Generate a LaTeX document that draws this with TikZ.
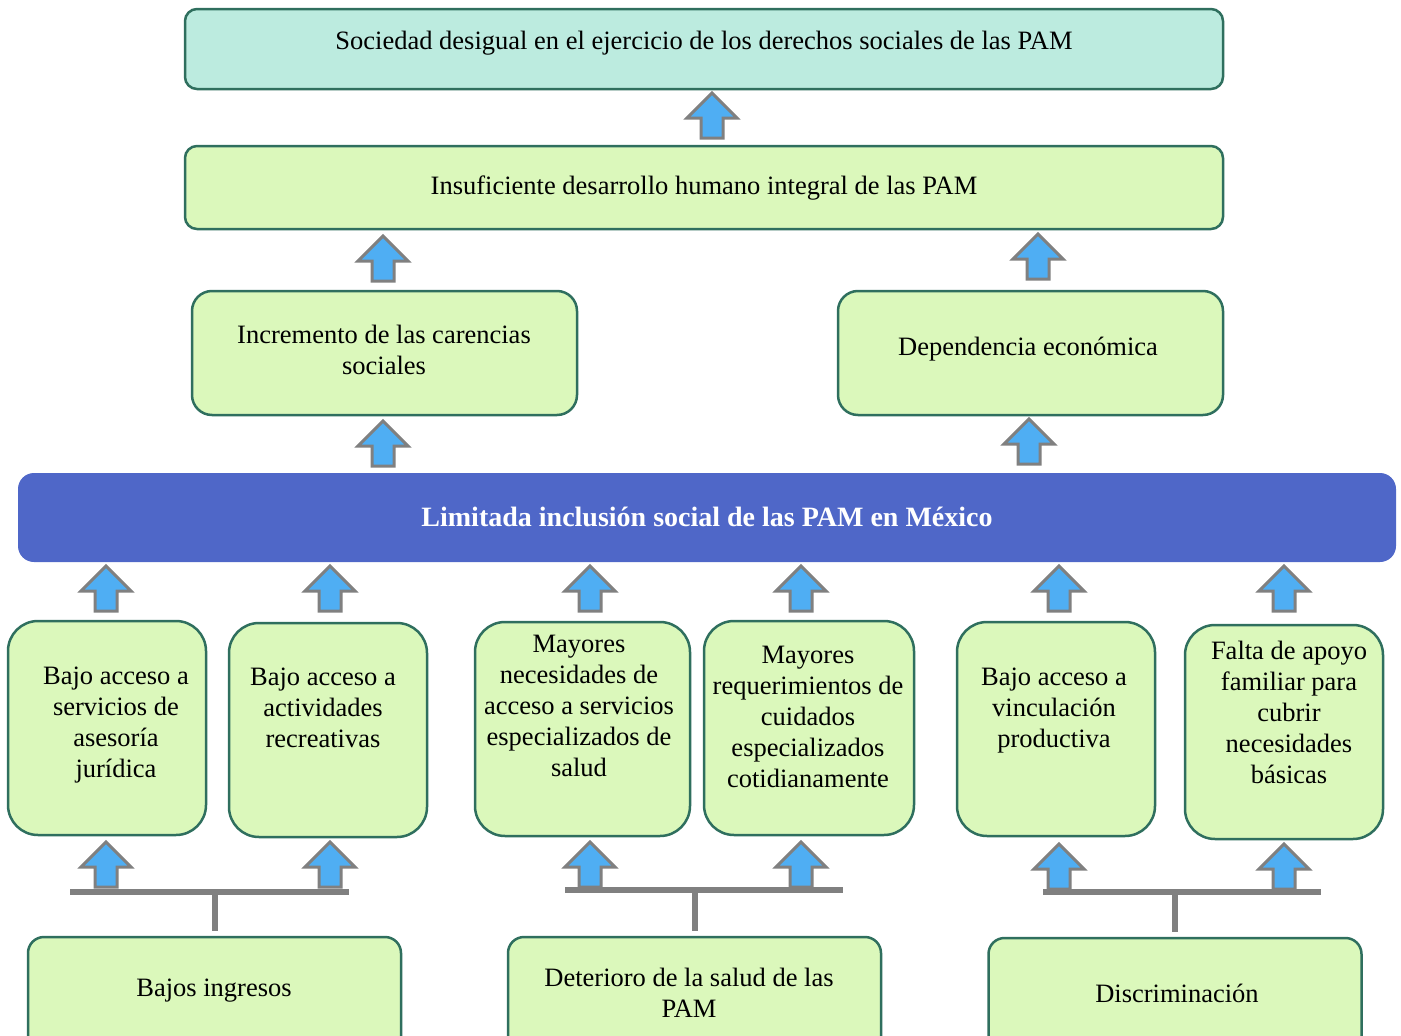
\documentclass[tikz,border=0pt]{standalone}
\usepackage{fontspec}
\setmainfont{Liberation Serif}
\definecolor{boxgreen}{HTML}{DBF8BB}
\definecolor{boxteal}{HTML}{BCEBDF}
\definecolor{boxline}{HTML}{2F6F5E}
\definecolor{barblue}{HTML}{4F67C8}
\definecolor{arrowblue}{HTML}{4FAEF3}
\definecolor{arrowgray}{HTML}{808080}

\tikzset{
  effbox/.style={draw=boxline, line width=2.5pt, fill=boxgreen, inner sep=0pt, rounded corners=14pt},
  causebox/.style={effbox, minimum width=198pt, minimum height=214pt, rounded corners=30pt},
  rootbox/.style={effbox, minimum width=373pt, minimum height=130pt, rounded corners=16pt},
  txt/.style={align=center, inner sep=0pt, font=\fontsize{26.5}{31}\selectfont},
  beam/.style={draw=arrowgray, line width=6pt},
  uparrow/.pic={
    \draw[fill=arrowblue, draw=arrowgray, line width=3pt]
      (-11,0) -- (11,0) -- (11,-20) -- (25,-20) -- (0,-45) -- (-25,-20) -- (-11,-20) -- cycle;
  }
}

\begin{document}
\begin{tikzpicture}[x=1pt, y=-1pt]
    \clip (0,0) rectangle (1401,1036);

    % Effects
    \node[effbox, fill=boxteal, minimum width=1038pt, minimum height=80pt, rounded corners=12pt] (top) at (704,49) {};
    \node[txt] (ttop) at (704,43) {Sociedad desigual en el ejercicio de los derechos sociales de las PAM};
    \node[effbox, minimum width=1038pt, minimum height=83pt, rounded corners=12pt] (mid) at (704,187.5) {};
    \node[txt] (tmid) at (704,188) {Insuficiente desarrollo humano integral de las PAM};
    \node[effbox, minimum width=385pt, minimum height=124pt, rounded corners=20pt] (carenc) at (384.5,353) {};
    \node[txt] (tcarenc) at (384,350) {Incremento de las carencias\\sociales};
    \node[effbox, minimum width=385pt, minimum height=124pt, rounded corners=20pt] (depend) at (1030.5,353) {};
    \node[txt] (tdepend) at (1028,349) {Dependencia económica};

    % Central problem
    \node[draw=none, fill=barblue, rounded corners=16pt, minimum width=1378pt, minimum height=89pt] (prob) at (707,517.5) {};
    \node[txt, text=white, font=\fontsize{28}{31}\selectfont\bfseries] (tprob) at (707,517) {Limitada inclusión social de las PAM en México};

    % Causes
    \node[causebox] (c1) at (107,728) {};
    \node[txt] (tc1) at (116,725.5) {Bajo acceso a\\servicios de\\asesoría\\jurídica};
    \node[causebox] (c2) at (328,730) {};
    \node[txt] (tc2) at (323,708) {Bajo acceso a\\actividades\\recreativas};
    \node[causebox, minimum width=215pt] (c3) at (582.5,729) {};
    \node[txt] (tc3) at (579,706) {Mayores\\necesidades de\\acceso a servicios\\especializados de\\salud};
    \node[causebox, minimum width=210pt] (c4) at (809,728) {};
    \node[txt] (tc4) at (808,717) {Mayores\\requerimientos de\\cuidados\\especializados\\cotidianamente};
    \node[causebox] (c5) at (1056,729) {};
    \node[txt] (tc5) at (1054,711) {Bajo acceso a\\vinculación\\productiva};
    \node[causebox] (c6) at (1284,732) {};
    \node[txt] (tc6) at (1289,712) {Falta de apoyo\\familiar para\\cubrir\\necesidades\\básicas};

    % Root causes
    \node[rootbox] (r1) at (214.5,1002) {};
    \node[txt] (tr1) at (214,991) {Bajos ingresos};
    \node[rootbox] (r2) at (694.5,1002) {};
    \node[txt] (tr2) at (689,993) {Deterioro de la salud de las\\PAM};
    \node[rootbox] (r3) at (1175,1003) {};
    \node[txt] (tr3) at (1177,993) {Discriminación};

    % Beams
    \draw[beam] (70,892) -- (349,892);
    \draw[beam] ([yshift=5pt]r1.north) -- (r1.north |- 0,892);
    \draw[beam] (565,890) -- (843,890);
    \draw[beam] ([yshift=5pt]r2.north) -- (r2.north |- 0,890);
    \draw[beam] (1043,892) -- (1321,892);
    \draw[beam] ([yshift=5pt]r3.north) -- (r3.north |- 0,892);

    % Arrows
    \pic at (712,138) {uparrow};
    \pic at (383,281) {uparrow};
    \pic at (1038,279) {uparrow};
    \pic at (383,466) {uparrow};
    \pic at (1029,464) {uparrow};
    \foreach \x in {106,330,590,801,1059,1284}
      \pic at (\x,611) {uparrow};
    \foreach \x in {106,330,590,801}
      \pic at (\x,887) {uparrow};
    \foreach \x in {1059,1284}
      \pic at (\x,889) {uparrow};
\end{tikzpicture}
\end{document}
